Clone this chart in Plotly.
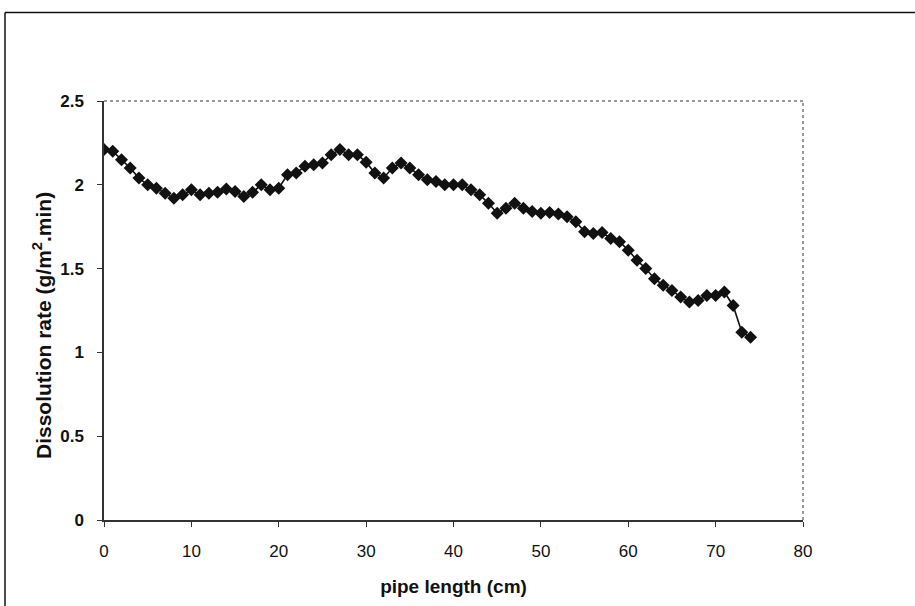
import plotly.graph_objects as go

# pipe position (cm) and measured dissolution rate (g/m2.min)
pipe_length = list(range(0, 75))
dissolution_rate = [
    2.21, 2.20, 2.15, 2.10, 2.04, 2.00, 1.98, 1.95, 1.92, 1.94,
    1.97, 1.94, 1.95, 1.955, 1.975, 1.96, 1.93, 1.955, 2.00, 1.97,
    1.98, 2.06, 2.07, 2.11, 2.12, 2.13, 2.18, 2.21, 2.18, 2.18,
    2.135, 2.07, 2.04, 2.10, 2.13, 2.10, 2.06, 2.03, 2.02, 2.00,
    2.00, 2.00, 1.97, 1.94, 1.89, 1.83, 1.86, 1.89, 1.86, 1.84,
    1.83, 1.835, 1.826, 1.81, 1.78, 1.72, 1.71, 1.715, 1.68, 1.66,
    1.61, 1.55, 1.50, 1.44, 1.40, 1.37, 1.33, 1.30, 1.31, 1.34,
    1.34, 1.36, 1.28, 1.12, 1.09,
]

x_ticks = [0, 10, 20, 30, 40, 50, 60, 70, 80]
y_ticks = [0, 0.5, 1, 1.5, 2, 2.5]
y_tick_labels = ["0", "0.5", "1", "1.5", "2", "2.5"]

font_family = "Liberation Sans, Arial, sans-serif"

fig = go.Figure()
fig.add_trace(go.Scatter(
    x=pipe_length,
    y=dissolution_rate,
    mode="lines+markers",
    line=dict(color="#111111", width=1.6),
    marker=dict(symbol="diamond", size=10, color="#111111"),
    showlegend=False,
))

fig.update_layout(
    width=915,
    height=606,
    margin=dict(l=104, r=112, t=101, b=86),
    paper_bgcolor="white",
    plot_bgcolor="white",
    font=dict(family=font_family, color="#111111"),
    xaxis=dict(
        range=[0, 80],
        tickvals=x_ticks,
        ticktext=[str(v) for v in x_ticks],
        ticks="outside",
        ticklen=5,
        tickcolor="#333333",
        tickfont=dict(size=17, family=font_family),
        ticklabelstandoff=10,
        showline=True,
        linecolor="#333333",
        linewidth=1.5,
        showgrid=False,
        zeroline=False,
        title=dict(text="<b>pipe length (cm)</b>",
                   font=dict(size=19, family=font_family), standoff=20),
    ),
    yaxis=dict(
        range=[0, 2.5],
        tickvals=y_ticks,
        ticktext=["<b>%s</b>" % t for t in y_tick_labels],
        ticks="outside",
        ticklen=5,
        tickcolor="#333333",
        tickfont=dict(size=17, family=font_family),
        ticklabelstandoff=10,
        showline=True,
        linecolor="#333333",
        linewidth=1.5,
        showgrid=False,
        zeroline=False,
    ),
    annotations=[
        # y-axis title, placed as a rotated annotation
        dict(text="<b>Dissolution rate (g/m<sup>2</sup>.min)</b>",
             xref="paper", yref="paper", x=(42 - 104) / 699, y=(520 - 326) / 419,
             xanchor="center", yanchor="middle", textangle=-90, showarrow=False,
             font=dict(size=21, family=font_family, color="#111111")),
    ],
    shapes=[
        # dotted frame on the top and right of the plot area
        dict(type="line", xref="paper", yref="paper", x0=0, x1=1, y0=1, y1=1,
             line=dict(color="#777777", width=1.5, dash="dot")),
        dict(type="line", xref="paper", yref="paper", x0=1, x1=1, y0=0, y1=1,
             line=dict(color="#777777", width=1.5, dash="dot")),
        # outer chart border (top and left edges)
        dict(type="line", xref="paper", yref="paper",
             x0=(5 - 104) / 699, x1=(920 - 104) / 699,
             y0=(520 - 12.5) / 419, y1=(520 - 12.5) / 419,
             line=dict(color="#111111", width=1.5)),
        dict(type="line", xref="paper", yref="paper",
             x0=(5 - 104) / 699, x1=(5 - 104) / 699,
             y0=(520 - 12.5) / 419, y1=(520 - 610) / 419,
             line=dict(color="#111111", width=1.5)),
    ],
)

fig.write_html("out.html")
